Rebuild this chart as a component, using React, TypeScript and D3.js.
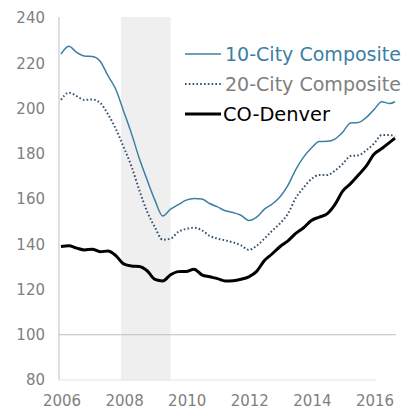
import React from "react";
import * as d3 from "d3";

// quarterly dates (decimal years), Case-Shiller index values
const dates = [
  2006.0, 2006.25, 2006.5, 2006.75, 2007.0, 2007.25, 2007.5, 2007.75,
  2008.0, 2008.25, 2008.5, 2008.75, 2009.0, 2009.25, 2009.5, 2009.75,
  2010.0, 2010.25, 2010.5, 2010.75, 2011.0, 2011.25, 2011.5, 2011.75,
  2012.0, 2012.25, 2012.5, 2012.75, 2013.0, 2013.25, 2013.5, 2013.75,
  2014.0, 2014.25, 2014.5, 2014.75, 2015.0, 2015.25, 2015.5, 2015.75,
  2016.0, 2016.25, 2016.5, 2016.67,
];

const city10 = [
  224, 227.5, 224.8, 223.2, 223, 220.9, 214.5, 208.5,
  198.8, 189, 178, 168.5, 159.5, 152.5, 155.5, 157.5,
  159.5, 160.2, 160, 158, 156.5, 154.8, 154, 152.8,
  150.5, 152, 155.5, 157.8, 161, 166, 173, 178.5,
  182.5, 185.4, 185.5, 186.5, 189.5, 193.6, 193.8, 196,
  199.5, 203, 202.2, 203,
];

const city20 = [
  203.8, 207, 205.5, 203.8, 204, 202.5, 197.5, 191,
  183, 174.5, 164, 154.5, 147.5, 142, 142.5, 145.5,
  146.8, 147.3, 146.2, 143.7, 142.5, 141.7, 140.8, 139.5,
  137.5, 139.3, 142.5, 146, 149.2, 153.5, 160.5, 165,
  168.8, 170.6, 170.6, 172.5, 175.5, 179, 179.3, 181.5,
  184.5, 188.3, 188.3, 187.6,
];

const denver = [
  139, 139.3, 138.3, 137.5, 137.8, 136.7, 137, 135,
  131.3, 130.4, 130.2, 128.3, 124.5, 123.8, 126.5, 127.9,
  128, 129, 126.5, 125.6, 124.8, 123.8, 123.9, 124.5,
  125.6, 128, 132.8, 135.8, 139, 141.5, 144.8, 147.3,
  150.5, 152, 153.4, 157.5, 163.5, 166.8, 170.6, 174.5,
  179.8, 182.3, 185, 186.9,
];

const yTicks = [80, 100, 120, 140, 160, 180, 200, 220, 240];
const xTicks = [2006, 2008, 2010, 2012, 2014, 2016];
const recession = [2007.917, 2009.5];

const seriesNames = ["10-City Composite", "20-City Composite", "CO-Denver"];

const W = 403;
const H = 411;
const FONT = "'DejaVu Sans', sans-serif";

export default function App() {
  const x = d3.scaleLinear().domain([2006, 2016]).range([61, 374]);
  const y = d3.scaleLinear().domain([80, 240]).range([380, 18]);

  const line = (vals: number[]) =>
    d3
      .line<number>()
      .x((_, i) => x(dates[i]))
      .y((d) => y(d))
      .curve(d3.curveMonotoneX)(vals) as string;

  return (
    <svg
      width={W}
      height={H}
      style={{ position: "absolute", left: 0, top: 0, background: "#fff" }}
      fontFamily={FONT}
    >
      {/* recession band */}
      <rect
        x={x(recession[0])}
        y={17}
        width={x(recession[1]) - x(recession[0])}
        height={380 - 17}
        fill="#efefef"
      />

      {/* axes */}
      <line x1={59} x2={59} y1={17} y2={380} stroke="#bfbfbf" strokeWidth={1} />
      <line x1={59} x2={376} y1={380} y2={380} stroke="#e3e3e3" strokeWidth={1} />
      <line x1={59} x2={396} y1={y(100)} y2={y(100)} stroke="#bfbfbf" strokeWidth={1} />

      {yTicks.map((t) => (
        <text
          key={t}
          x={45}
          y={y(t)}
          dy="0.36em"
          textAnchor="end"
          fontSize={15}
          fill="#808080"
        >
          {t}
        </text>
      ))}
      {xTicks.map((t) => (
        <text
          key={t}
          x={x(t) + 1}
          y={406}
          textAnchor="middle"
          fontSize={15}
          fill="#808080"
        >
          {t}
        </text>
      ))}

      {/* series */}
      <path d={line(city10)} fill="none" stroke="#3b80a4" strokeWidth={1.5} />
      <path
        d={line(city20)}
        fill="none"
        stroke="#35526e"
        strokeWidth={2}
        strokeDasharray="1.6 2.2"
      />
      <path d={line(denver)} fill="none" stroke="#000" strokeWidth={3} strokeLinejoin="round" />

      {/* legend */}
      <line x1={185} x2={221} y1={54} y2={54} stroke="#3b80a4" strokeWidth={1.5} />
      <text x={225} y={61} fontSize={19} fill="#3b80a4" textLength={176} lengthAdjust="spacingAndGlyphs">
        {seriesNames[0]}
      </text>
      <line
        x1={185}
        x2={221}
        y1={84}
        y2={84}
        stroke="#35526e"
        strokeWidth={2}
        strokeDasharray="1.6 2.2"
      />
      <text x={225} y={91} fontSize={19} fill="#808080" textLength={176} lengthAdjust="spacingAndGlyphs">
        {seriesNames[1]}
      </text>
      <line x1={185} x2={221} y1={114} y2={114} stroke="#000" strokeWidth={3} />
      <text x={223} y={121} fontSize={19} fill="#000" textLength={107} lengthAdjust="spacingAndGlyphs">
        {seriesNames[2]}
      </text>
    </svg>
  );
}
